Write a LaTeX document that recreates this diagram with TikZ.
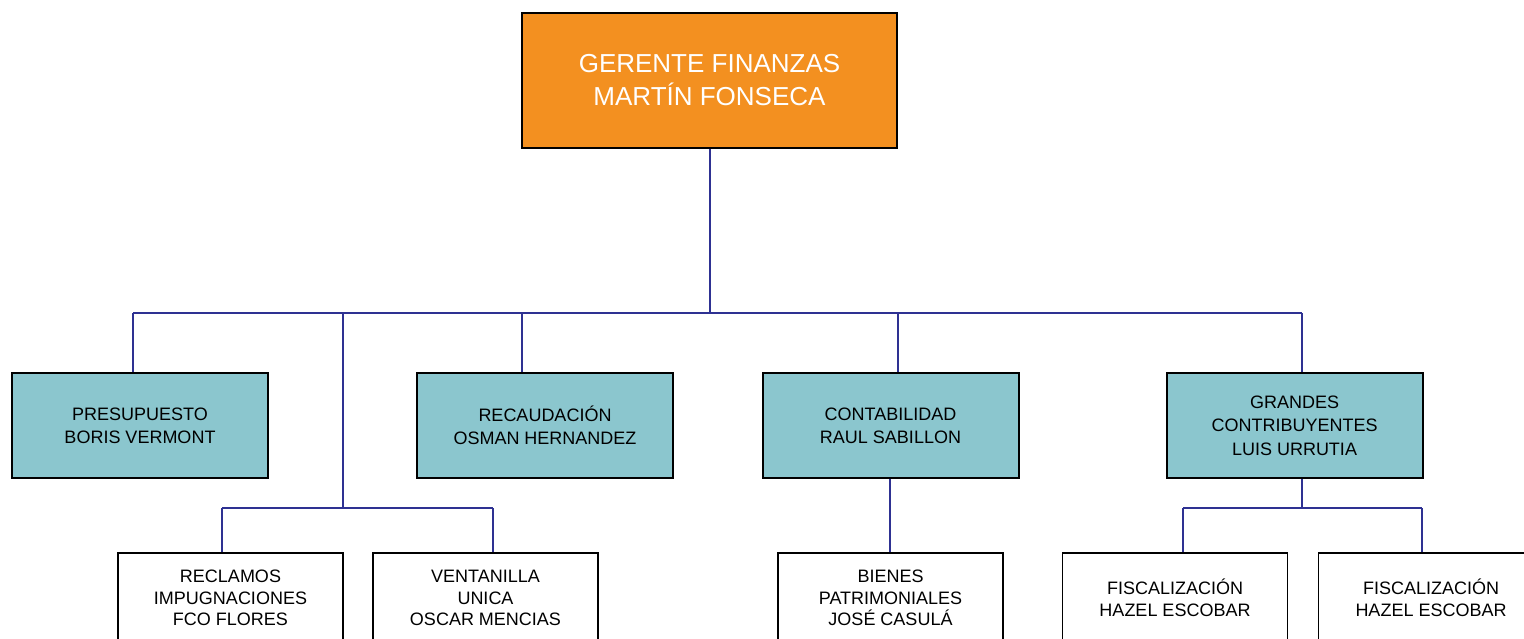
\documentclass[tikz,border=0pt]{standalone}
\usepackage{fontspec}
\setmainfont{Liberation Sans}
\definecolor{orangebox}{RGB}{243,144,32}
\definecolor{tealbox}{RGB}{139,198,206}
\definecolor{linkblue}{RGB}{46,49,146}
\begin{document}
\begin{tikzpicture}[x=0.5pt,y=-0.5pt,
  topbox/.style={draw=black,line width=1pt,fill=orangebox,text=white,minimum width=187.5pt,minimum height=67.5pt,inner sep=0pt,align=center,font=\fontsize{13}{16.5}\selectfont},
  midbox/.style={draw=black,line width=1pt,fill=tealbox,minimum width=128pt,minimum height=52.5pt,inner sep=0pt,align=center,font=\fontsize{9}{11.7}\selectfont},
  lowbox/.style={draw=black,line width=0.9pt,fill=white,minimum width=112.5pt,minimum height=45pt,inner sep=0pt,align=center,font=\fontsize{9}{10.8}\selectfont},
  conn/.style={draw=linkblue,line width=0.9pt}]
\useasboundingbox (0,0) rectangle (1524,638);
\clip (0,0) rectangle (1524,638);
\fill[white] (0,0) rectangle (1524,638);
\coordinate (busL) at (133,313);
\coordinate (busR) at (1302,313);
\coordinate (dRec) at (522,313);
\coordinate (dCon) at (898,313);
\coordinate (dSub) at (343,313);
\coordinate (subJ) at (343,508);
\coordinate (subL) at (222,508);
\coordinate (subR) at (493,508);
\coordinate (gJ) at (1302,508);
\coordinate (gL) at (1183,508);
\coordinate (gR) at (1422,508);
\coordinate (cDrop) at (890,313);

\node[topbox] (ger) at (709.5,80.5) {GERENTE FINANZAS\\MARTÍN FONSECA};
\node[midbox] (pre) at (140,425.5) {PRESUPUESTO\\BORIS VERMONT};
\node[midbox] (rec) at (545,425.5) {RECAUDACIÓN\\OSMAN HERNANDEZ};
\node[midbox] (con) at (890.5,425.5) {CONTABILIDAD\\RAUL SABILLON};
\node[midbox] (gra) at (1294.5,425.5) {GRANDES\\CONTRIBUYENTES\\LUIS URRUTIA};
\node[lowbox] (recl) at (230.5,598) {RECLAMOS\\IMPUGNACIONES\\FCO FLORES};
\node[lowbox] (ven) at (485.5,598) {VENTANILLA\\UNICA\\OSCAR MENCIAS};
\node[lowbox] (bie) at (890.5,598) {BIENES\\PATRIMONIALES\\JOSÉ CASULÁ};
\node[lowbox] (fis1) at (1175,598) {FISCALIZACIÓN\\HAZEL ESCOBAR};
\node[lowbox] (fis2) at (1431,598) {FISCALIZACIÓN\\HAZEL ESCOBAR};

\draw[conn] (ger.south -| 710,0) -- (710,313);
\draw[conn] (busL) -- (busR);
\draw[conn] (busL) -- (busL |- pre.north);
\draw[conn] (dRec) -- (dRec |- rec.north);
\draw[conn] (dCon) -- (dCon |- con.north);
\draw[conn] (busR) -- (busR |- gra.north);
\draw[conn] (dSub) -- (subJ);
\draw[conn] (subL) -- (subR);
\draw[conn] (subL) -- (subL |- recl.north);
\draw[conn] (subR) -- (subR |- ven.north);
\draw[conn] (con.south -| cDrop) -- (cDrop |- bie.north);
\draw[conn] (gra.south -| gJ) -- (gJ);
\draw[conn] (gL) -- (gR);
\draw[conn] (gL) -- (gL |- fis1.north);
\draw[conn] (gR) -- (gR |- fis2.north);
\end{tikzpicture}
\end{document}
